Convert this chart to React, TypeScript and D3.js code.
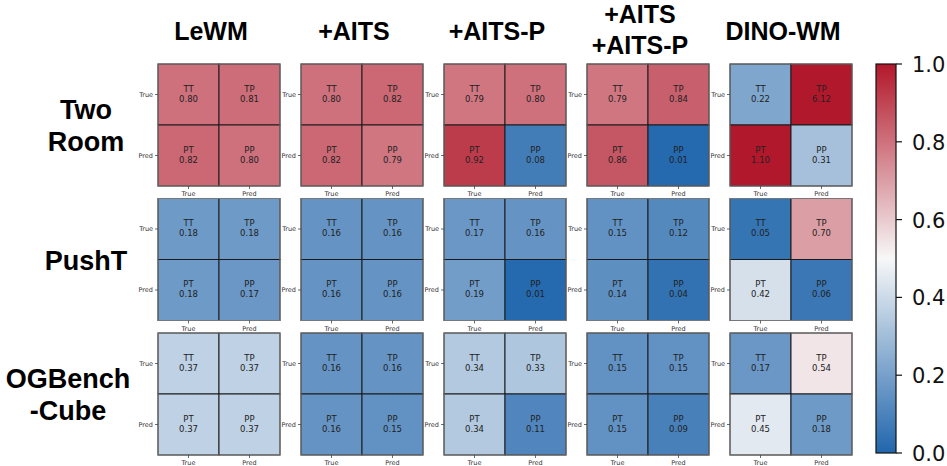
import React from "react";
import * as d3 from "d3";

// column (model) titles, row (environment) labels
const models = ["LeWM", "+AITS", "+AITS-P", "+AITS|+AITS-P", "DINO-WM"];
const envs = ["Two|Room", "PushT", "OGBench|-Cube"];
const axisLabels = ["True", "Pred"];
const cellNames = ["TT", "TP", "PT", "PP"];

// values per model, order TT, TP, PT, PP
const twoRoom = [
  [0.8, 0.81, 0.82, 0.8],
  [0.8, 0.82, 0.82, 0.79],
  [0.79, 0.8, 0.92, 0.08],
  [0.79, 0.84, 0.86, 0.01],
  [0.22, 6.12, 1.1, 0.31],
];
const pushT = [
  [0.18, 0.18, 0.18, 0.17],
  [0.16, 0.16, 0.16, 0.16],
  [0.17, 0.16, 0.19, 0.01],
  [0.15, 0.12, 0.14, 0.04],
  [0.05, 0.7, 0.42, 0.06],
];
const ogCube = [
  [0.37, 0.37, 0.37, 0.37],
  [0.16, 0.16, 0.16, 0.15],
  [0.34, 0.33, 0.34, 0.11],
  [0.15, 0.15, 0.15, 0.09],
  [0.17, 0.54, 0.45, 0.18],
];
const cbTicks = [0, 0.2, 0.4, 0.6, 0.8, 1.0];

const allRows = [twoRoom, pushT, ogCube];

const W = 947, H = 466;
const bold = "'Liberation Sans', Arial, sans-serif";
const dv = "'DejaVu Sans', sans-serif";

export default function App() {
  const x = d3.scaleBand().domain(models).range([158, 852]).paddingInner(21 / 143);
  const y = d3.scaleBand().domain(envs).range([64, 455]).paddingInner(12.5 / 134.5);
  const size = x.bandwidth();
  const inner = d3.scaleBand().domain(axisLabels).range([0, size]);

  const color = d3.scaleLinear<string>()
    .domain([0, 0.5, 1])
    .range(["#2166ac", "#f7f7f7", "#b2182b"])
    .interpolate(d3.interpolateRgb)
    .clamp(true);

  const cb = d3.scaleLinear().domain([0, 1]).range([453, 64]);
  const cbX = 876, cbW = 20;
  const stops = d3.range(0, 1.001, 0.05);

  return (
    <svg width={W} height={H} style={{ position: "absolute", left: 0, top: 0, background: "#fff" }}>
      <defs>
        <linearGradient id="cbGrad" x1="0" y1="1" x2="0" y2="0">
          {stops.map((s) => (
            <stop key={s} offset={s} stopColor={color(s)} />
          ))}
        </linearGradient>
      </defs>

      {/* column titles */}
      {models.map((m) => {
        const lines = m.split("|");
        const cx = (x(m) as number) + size / 2 - 8;
        const base = lines.length > 1 ? 23 : 40;
        return lines.map((ln, i) => (
          <text key={m + i} x={cx} y={base + i * 31} textAnchor="middle"
            fontFamily={bold} fontWeight="bold" fontSize={25}>{ln}</text>
        ));
      })}

      {/* row labels */}
      {envs.map((e) => {
        const lines = e.split("|");
        const cy = (y(e) as number) + size / 2;
        const cx = lines[0].length > 6 ? 68 : 86;
        const start = cy + 10 - (lines.length - 1) * 16;
        return lines.map((ln, i) => (
          <text key={e + i} x={cx} y={start + i * 32} textAnchor="middle"
            fontFamily={bold} fontWeight="bold" fontSize={27}>{ln}</text>
        ));
      })}

      {/* matrices */}
      {envs.map((e, ri) =>
        models.map((m, ci) => {
          const vals = allRows[ri][ci];
          return (
            <g key={e + m} transform={`translate(${x(m)},${y(e)})`}>
              {vals.map((v, k) => {
                const r = axisLabels[Math.floor(k / 2)];
                const c = axisLabels[k % 2];
                const cx = (inner(c) as number) + inner.bandwidth() / 2;
                const cy = (inner(r) as number) + inner.bandwidth() / 2;
                return (
                  <g key={k}>
                    <rect x={inner(c)} y={inner(r)} width={inner.bandwidth()} height={inner.bandwidth()}
                      fill={color(v)} stroke="#1a1a1a" strokeWidth={1} />
                    <text x={cx} y={cy - 3} textAnchor="middle" fontFamily={dv} fontSize={8.5} fill="#222">{cellNames[k]}</text>
                    <text x={cx} y={cy + 7} textAnchor="middle" fontFamily={dv} fontSize={8.5} fill="#222">{v.toFixed(2)}</text>
                  </g>
                );
              })}
              <rect x={0} y={0} width={size} height={size} fill="none" stroke="#777" strokeWidth={1} />
              {axisLabels.map((a) => {
                const p = (inner(a) as number) + inner.bandwidth() / 2;
                return (
                  <g key={a}>
                    <line x1={-3} x2={0} y1={p} y2={p} stroke="#444" strokeWidth={0.8} />
                    <text x={-5} y={p + 2} textAnchor="end" fontFamily={dv} fontSize={6.5} fill="#333">{a}</text>
                    <line x1={p} x2={p} y1={size} y2={size + 3} stroke="#444" strokeWidth={0.8} />
                    <text x={p} y={size + 10} textAnchor="middle" fontFamily={dv} fontSize={6.5} fill="#333">{a}</text>
                  </g>
                );
              })}
            </g>
          );
        })
      )}

      {/* colorbar */}
      <rect x={cbX} y={cb(1)} width={cbW} height={cb(0) - cb(1)} fill="url(#cbGrad)" stroke="#111" strokeWidth={1.2} />
      {cbTicks.map((t) => (
        <g key={t}>
          <line x1={cbX + cbW} x2={cbX + cbW + 6} y1={cb(t)} y2={cb(t)} stroke="#111" strokeWidth={1.2} />
          <text x={cbX + cbW + 16} y={cb(t) + 8} fontFamily={dv} fontSize={21} fill="#111">{d3.format(".1f")(t)}</text>
        </g>
      ))}
    </svg>
  );
}
